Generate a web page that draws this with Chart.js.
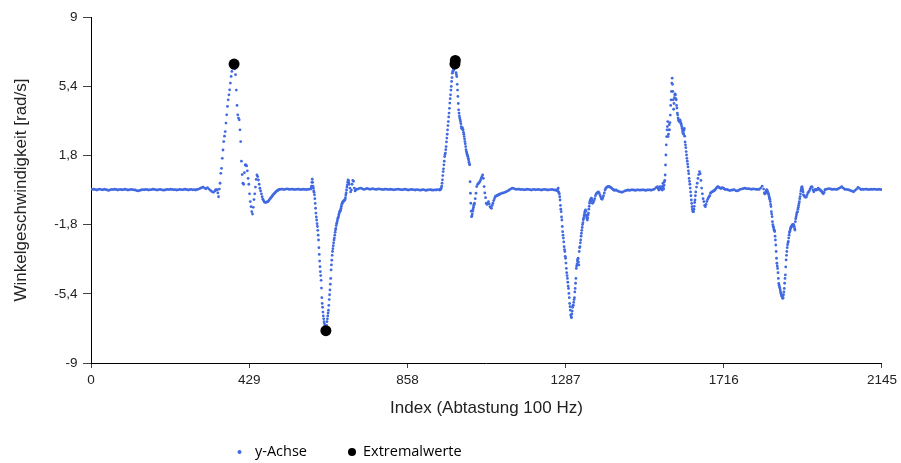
<!DOCTYPE html>
<html><head><meta charset="utf-8">
<script src="https://cdn.jsdelivr.net/npm/chart.js@4.4.1/dist/chart.umd.min.js"></script>
<style>html,body{margin:0;padding:0;background:#fff;}canvas{display:block;}</style>
</head><body>
<canvas id="c" width="901" height="463"></canvas>
<script>
// ---- tick labels ----
const xTicks = [0, 429, 858, 1287, 1716, 2145];
const yTicks = [-9, -5.4, -1.8, 1.8, 5.4, 9];

// ---- y-Achse samples (segment start index / step given below) ----
const flatA = [0.05,0.03,0.04,0.02,0.0,0.03,0.05,0.02,0.01,0.04,
  0.02,0.0,-0.02,0.01,0.03,0.02,0.04,0.03,0.0,0.02,
  0.03,0.01,0.02,0.04,0.02,0.0,0.01,0.03,0.02,0.01,
  0.0,-0.03,-0.05,-0.02,0.0,0.02,0.01,0.03,0.02,0.0,
  0.01,0.02,0.04,0.03,0.01,0.0,0.02,0.03,0.01,-0.01,
  0.0,0.02,0.03,0.02,0.04,0.03,0.01,0.02,0.0,0.01,
  0.03,0.02,0.01,0.03,0.04,0.02,0.0,0.02,0.03,0.01,
  0.02,0.0,0.03,0.05,0.08,0.12,0.15,0.1,0.06,0.12,
  0.05,-0.02,-0.08,-0.12,-0.05];
const peakA = [0.0,0.02,0.0,-0.15,-0.35,0.05,0.35,0.87,1.13,1.65,
  2.08,2.52,2.8,3.04,3.48,3.91,4.35,4.69,4.95,5.21,
  5.56,5.91,6.17,6.34,6.45,6.55,6.3,6.0,5.2,4.4,
  3.91,3.74,3.65,3.13,2.52,1.5,0.8,0.35,0.3,0.9,
  1.3,1.3,1.25,1.0,0.6,0.3,-0.2,-0.6,-0.87,-1.13,
  -1.25,-0.9,-0.5,-0.2,0.15,0.55,0.78,0.7,0.52,0.3,
  0.09,-0.05,-0.2,-0.35,-0.48,-0.55,-0.62,-0.64,-0.64,-0.63,
  -0.62,-0.6,-0.55,-0.5,-0.45,-0.4,-0.35,-0.3,-0.25,-0.2,
  -0.17,-0.12,-0.08,-0.05,-0.02,0.0,0.02];
const flatB = [0.03,0.05,0.04,0.02,0.05,0.06,0.04,0.03,0.05,0.04,0.02,0.03,0.05,0.04,0.02,0.03,0.04,0.03,0.02,0.03,0.05];
const troughA = [0.05,0.1,0.2,0.4,0.56,0.4,0.2,0.09,-0.05,-0.12,
  -0.25,-0.45,-0.7,-0.95,-1.2,-1.4,-1.56,-1.75,-1.9,-2.1,
  -2.35,-2.6,-3.0,-3.35,-3.7,-3.99,-4.25,-4.45,-4.7,-5.1,
  -5.6,-5.9,-6.1,-6.35,-6.55,-6.7,-6.85,-6.95,-7.05,-7.2,
  -7.3,-7.32,-7.2,-7.05,-6.85,-6.7,-6.55,-6.4,-6.25,-6.0,
  -5.7,-5.45,-5.2,-4.9,-4.6,-4.16,-3.9,-3.65,-3.4,-3.2,
  -3.05,-2.9,-2.75,-2.6,-2.5,-2.35,-2.2,-2.08,-2.0,-1.85,
  -1.75,-1.7,-1.6,-1.5,-1.45,-1.4,-1.3,-1.22,-1.15,-1.1,
  -1.07,-1.04,-0.95,-0.85,-0.75,-0.7,-0.65,-0.62,-0.6,-0.58,
  -0.55,-0.55,-0.52,-0.5,-0.4,-0.26,-0.15,0.0,0.15,0.26,
  0.4,0.52,0.5,0.4,0.3];
const postTroughA = [0.1,-0.1,0.0,0.3,0.5,0.45,0.1,-0.05,0.0,0.05];
const flatC = [0.05,0.08,0.1,0.06,0.03,0.05,0.08,0.06,0.04,0.05,
  0.07,0.05,0.03,0.04,0.06,0.05,0.03,0.02,0.04,0.05,
  0.03,0.02,0.04,0.03,0.01,0.02,0.03,0.05,0.03,0.02,
  0.01,0.03,0.04,0.02,0.0,0.01,0.03,0.02,0.01,0.0,
  0.02,0.01,-0.01,0.0,0.02,0.01,-0.02,0.0,0.01,0.02,
  0.0,-0.01,0.01,0.0,0.02,0.01];
const peakB = [0.0,0.02,0.05,0.05,0.1,0.2,0.35,0.53,0.75,0.96,
  1.1,1.31,1.5,1.74,1.85,1.92,2.1,2.26,2.5,2.7,
  2.9,3.13,3.35,3.56,3.8,4.0,4.25,4.52,4.75,4.95,
  5.2,5.39,5.65,5.85,6.08,6.17,6.2,6.3,6.25,6.4,
  6.5,6.55,6.6,6.35,6.1,6.0,5.9,5.5,5.2,4.87,
  4.5,4.17,4.0,3.85,3.74,3.65,3.56,3.45,3.3,3.21,
  3.2,3.25,3.15,3.13,3.0,2.9,2.78,2.65,2.52,2.4,
  2.26,2.1,2.0,1.92,1.85,1.8,1.74,1.65,1.56,1.45,
  1.35,1.31,0.43,-0.17,-0.69,-1.1,-1.39,-1.35,-1.25,-1.1,
  -1.0,-0.9,-0.8,-0.75,-0.69];
const postPeakB = [-0.45,-0.17,0.18,0.28,0.33,0.37,0.42,0.5,0.6,0.69,
  0.78,0.6,0.18,-0.15,-0.4,-0.69,-0.75,-0.7,-0.6,-0.72,
  -0.86,-0.92,-0.95,-0.8,-0.69,-0.55,-0.45,-0.35,-0.32,-0.3,
  -0.28,-0.26,-0.24,-0.22,-0.2];
const flatD = [-0.17,-0.15,-0.12,-0.09,-0.05,0.0,0.05,0.09,0.08,0.05,
  0.03,0.05,0.04,0.02,0.03,0.01,0.02,0.04,0.03,0.02,
  0.0,0.02,0.03,0.01,0.02,0.03,0.01,0.0,0.02,0.03,
  0.02,0.0,0.01,0.02,0.03,0.01,0.0,-0.02];
const troughB = [0.0,-0.05,0.05,0.1,-0.1,-0.15,-0.2,-0.35,-0.52,-0.8,
  -1.0,-1.13,-1.4,-1.56,-1.9,-2.17,-2.35,-2.5,-2.7,-2.95,
  -3.1,-3.2,-3.45,-3.55,-3.8,-4.08,-4.3,-4.45,-4.6,-4.8,
  -5.0,-5.12,-5.38,-5.6,-5.9,-6.07,-6.25,-6.5,-6.6,-6.64,
  -6.45,-6.3,-6.1,-6.0,-6.0,-5.85,-5.7,-5.6,-5.3,-5.12,
  -4.85,-4.6,-4.08,-3.95,-3.85,-3.7,-3.6,-3.55,-3.75,-3.9,
  -3.2,-3.0,-2.95,-2.75,-2.6,-2.4,-2.25,-2.1,-1.95,-1.8,
  -1.7,-1.55,-1.47,-1.35,-1.25,-1.15,-1.1,-1.04,-1.1,-1.3,
  -1.4,-1.5,-1.56,-1.45,-1.3,-1.2,-1.0,-0.85,-0.69,-0.6,
  -0.55,-0.5,-0.45,-0.43,-0.5,-0.6,-0.69];
const postTroughB = [-0.65,-0.55,-0.45,-0.3,-0.2,-0.17,-0.12,-0.1,-0.15,-0.25,
  -0.35,-0.45,-0.48,-0.4,-0.3,-0.15,0.0,0.08,0.14,0.16,
  0.17,0.17,0.17,0.15,0.12,0.1,0.05,0.03,0.0,-0.02];
const flatE = [0.0,-0.05,-0.08,-0.1,-0.12,-0.08,-0.05,-0.02,0.0,-0.02,
  0.0,0.01,0.0,-0.02,0.0,0.01,-0.01,0.0,0.01,0.0,
  -0.02,0.0,0.01,0.0,-0.01,0.02,0.05,0.12,0.18];
const peakC = [0.1,0.05,0.0,0.05,0.12,0.17,0.1,0.05,0.1,0.15,
  0.05,0.0,0.2,0.35,0.15,0.05,0.25,0.43,0.5,0.78,
  1.3,1.82,2.35,2.78,3.13,3.3,3.56,2.78,2.9,3.13,
  3.4,3.13,3.5,3.9,4.4,4.69,5.13,5.56,5.82,5.5,
  5.13,4.69,4.2,4.5,4.8,4.95,5.0,4.95,4.75,4.69,
  4.4,4.26,4.0,3.91,3.75,3.65,3.6,3.56,3.6,3.65,
  3.6,3.5,3.45,3.4,3.3,3.2,3.1,3.0,2.95,2.9,
  3.1,3.2,2.8,2.5,2.35,2.2,2.0,1.82,1.65,1.5,
  1.35,1.2,1.0,0.85,0.6,0.45,0.3,0.1,-0.1,-0.3,
  -0.52,-0.7,-0.87,-1.0,-1.1,-1.13,-1.13,-1.0,-0.85,-0.65,
  -0.52,-0.3,-0.1];
const postPeakC = [0.15,0.35,0.6,0.8,0.96,0.85,0.5,0.1,-0.2,-0.45,
  -0.6,-0.8,-0.87,-0.75,-0.6,-0.5,-0.42,-0.35,-0.3,-0.17,
  -0.12,-0.1,-0.08,-0.05,-0.03,0.0,0.05,0.1,0.15,0.18,
  0.15,0.12,0.1,0.08,0.1,0.12,0.1,0.08,0.05,0.03];
const flatF = [0.03,0.0,-0.03,-0.01,0.0,0.02,-0.03,-0.05,-0.02,0.03,
  0.05,0.07,0.09,0.08,0.06,0.07,0.05,0.04,0.06,0.05,
  0.03,0.04,0.03,0.1,0.2,0.05];
const troughC = [-0.15,-0.2,-0.2,-0.15,-0.1,-0.05,0.0,0.0,-0.05,-0.1,
  -0.15,-0.2,-0.26,-0.35,-0.43,-0.5,-0.6,-0.75,-0.86,-1.13,
  -1.25,-1.39,-1.65,-1.8,-1.9,-1.95,-2.05,-2.1,-2.16,-2.4,
  -2.6,-2.86,-3.2,-3.55,-3.81,-3.95,-4.08,-4.3,-4.6,-4.86,
  -4.95,-5.05,-5.1,-5.2,-5.3,-5.38,-5.45,-5.52,-5.55,-5.6,
  -5.64,-5.6,-5.45,-5.3,-5.12,-4.85,-4.6,-4.42,-4.0,-3.64,
  -3.4,-3.2,-3.0,-2.85,-2.75,-2.68,-2.5,-2.35,-2.22,-2.15,
  -2.08,-2.0,-1.95,-1.9,-1.9,-1.85,-1.82,-1.8,-1.8,-1.8,
  -1.82,-1.9,-2.0,-2.08,-1.65,-1.5,-1.4,-1.3,-1.2,-1.15,
  -1.13,-1.0,-0.9,-0.8,-0.7,-0.6,-0.45,-0.34,-0.2,-0.05,
  0.05,0.12,0.18,0.1,0.0,-0.1,-0.26];
const postTroughC = [-0.3,-0.36,-0.38,-0.36,-0.25,-0.15,-0.1,-0.05,0.05,0.12,
  0.18,0.15,0.0,-0.09,-0.02,0.03,0.02,0.0,0.05,0.09,
  0.05,0.0,0.0,-0.05,-0.09,-0.15,-0.2,-0.12,0.0,0.03];
const flatG = [0.05,0.07,0.06,0.04,0.03,0.05,0.03,0.04,0.08,0.12,
  0.17,0.1,0.04,0.03,0.02,0.0,-0.03,-0.06,-0.09,-0.02,
  0.05,0.14,0.08,0.02,0.04,0.03,0.05,0.04,0.02,0.03,
  0.04,0.03,0.05,0.03,0.02,0.04,0.03,0.02];

// segment: values, first sample index, index step
const segments = [
  [flatA, 0, 4], [peakA, 338, 2], [flatB, 512, 4], [troughA, 596, 1], [postTroughA, 702, 2],
  [flatC, 724, 4], [peakB, 946, 1], [postPeakB, 1042, 2], [flatD, 1114, 4], [troughB, 1264, 1],
  [postTroughB, 1362, 2], [flatE, 1424, 4], [peakC, 1538, 1], [postPeakC, 1642, 2], [flatF, 1724, 4],
  [troughC, 1826, 1], [postTroughC, 1934, 2], [flatG, 1996, 4]
];

// ---- Extremalwerte ----
const extremaIndex = [388, 637, 987, 988];
const extremaValue = [6.55, -7.32, 6.56, 6.74];

const yAchsePoints = [];
segments.forEach(([vals, start, step]) => vals.forEach((v, i) => yAchsePoints.push({x: start + i * step, y: v})));
const extremaPoints = extremaIndex.map((x, i) => ({x, y: extremaValue[i]}));

const FONT = "'Liberation Sans', Arial, sans-serif";
const fmt = v => String(v).replace('.', ',');

const legendPlugin = {
  id: 'customLegend',
  afterDraw(chart) {
    const ctx = chart.ctx;
    const ds = chart.data.datasets;
    const items = [
      {d: ds[1], dotX: 239.5, r: 2, textX: 255},
      {d: ds[0], dotX: 352, r: 4, textX: 363}
    ];
    const y = 452;
    ctx.save();
    ctx.font = "14.5px 'Open Sans', sans-serif";
    ctx.textBaseline = 'middle';
    ctx.textAlign = 'left';
    items.forEach(it => {
      ctx.fillStyle = it.d.backgroundColor;
      ctx.beginPath();
      ctx.arc(it.dotX, y, it.r, 0, Math.PI * 2);
      ctx.fill();
      ctx.fillStyle = '#000';
      ctx.fillText(it.d.label, it.textX, y);
    });
    ctx.restore();
  }
};

new Chart(document.getElementById('c'), {
  type: 'scatter',
  data: {
    datasets: [
      {label: 'Extremalwerte', data: extremaPoints, backgroundColor: '#000000', borderWidth: 0, pointRadius: 5.5, pointHoverRadius: 5.5, order: 0},
      {label: 'y-Achse', data: yAchsePoints, backgroundColor: '#4169E1', borderWidth: 0, pointRadius: 1.4, pointHoverRadius: 1.4, order: 1}
    ]
  },
  options: {
    responsive: false,
    animation: false,
    devicePixelRatio: 1,
    layout: {padding: {top: 17, right: 19, left: 0, bottom: 0}},
    plugins: {legend: {display: false}, tooltip: {enabled: false}},
    scales: {
      x: {
        type: 'linear', min: 0, max: 2145,
        afterBuildTicks: s => { s.ticks = xTicks.map(v => ({value: v})); },
        afterFit: s => { s.height = 100; },
        ticks: {font: {family: FONT, size: 13.5}, color: '#222', padding: 4, maxRotation: 0, autoSkip: false, callback: v => fmt(v)},
        grid: {drawOnChartArea: false, drawTicks: true, tickLength: 5, color: '#444'},
        border: {display: true, color: '#000', width: 1},
        title: {display: true, text: 'Index (Abtastung 100 Hz)', font: {family: FONT, size: 17}, color: '#222', padding: {top: 0, bottom: 44.3}}
      },
      y: {
        type: 'linear', min: -9, max: 9,
        afterBuildTicks: s => { s.ticks = yTicks.map(v => ({value: v})); },
        afterFit: s => { s.width = 91; },
        ticks: {font: {family: FONT, size: 13.5}, color: '#222', padding: 5.5, autoSkip: false, callback: v => fmt(v)},
        grid: {drawOnChartArea: false, drawTicks: true, tickLength: 8, color: '#444'},
        border: {display: true, color: '#000', width: 1},
        title: {display: true, text: 'Winkelgeschwindigkeit [rad/s]', font: {family: FONT, size: 17}, color: '#222', padding: {top: 11.3, bottom: 0}}
      }
    }
  },
  plugins: [legendPlugin]
});
</script>
</body></html>
